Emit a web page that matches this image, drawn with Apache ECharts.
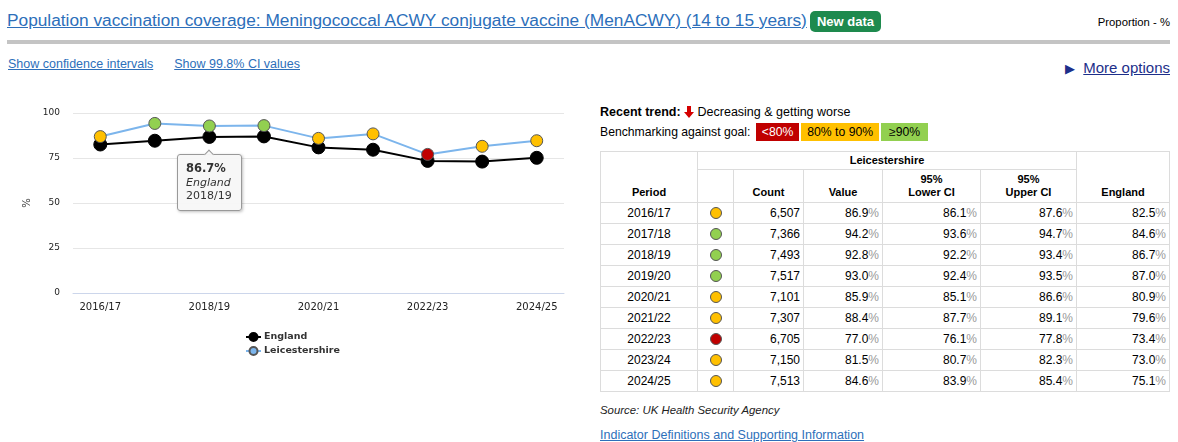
<!DOCTYPE html>
<html>
<head>
<meta charset="utf-8">
<script src="https://cdn.jsdelivr.net/npm/echarts@6/dist/echarts.min.js"></script>
<style>
body { margin: 0; background: #fff; font-family: "Liberation Sans", Arial, sans-serif; }
#page { position: relative; width: 1178px; height: 442px; overflow: hidden; }
.abs { position: absolute; white-space: nowrap; }
a { color: #2d6fba; text-decoration: underline; }
#title { left: 7px; top: 10px; font-size: 17.3px; }
#badge { left: 810px; top: 11px; width: 71px; height: 21px; background: #1e8a4e; color: #fff; font-weight: bold; font-size: 13px; line-height: 21px; text-align: center; border-radius: 5px; }
#unit { right: 8px; top: 16px; font-size: 11.3px; color: #000; }
#rule { left: 7px; top: 40px; width: 1163px; height: 4px; background: #c4c4c4; }
#links { left: 8px; top: 57px; font-size: 12.5px; }
#links a { margin-right: 21px; }
#more { right: 8px; top: 59px; font-size: 15px; color: #1d2f8a; }
#more a { color: #1d2f8a; }
#aqi_chart { position: absolute; left: 0; top: 0; width: 592px; height: 442px; }
#trend { left: 600px; top: 105px; font-size: 12.5px; color: #000; }
#bench { left: 600px; top: 123px; font-size: 12.2px; color: #000; line-height: 18px; }
#bench span.b { display: inline-block; height: 18px; padding: 0 6px; margin-left: 2px; }
#tbl { position: absolute; left: 600px; top: 151px; border-collapse: collapse; font-size: 12px; color: #000; }
#tbl td, #tbl th { border: 1px solid #dcdcdc; padding: 0 3px; }
#tbl td { height: 20px; }
#tbl th { font-size: 11px; font-weight: bold; text-align: center; vertical-align: bottom; padding-bottom: 3px; line-height: 13px; }
#tbl td { text-align: right; line-height: 19px; }
#tbl td.c { text-align: center; }
#tbl .pc { color: #999; }
.dot { display: inline-block; width: 10px; height: 10px; border-radius: 50%; border: 1px solid #555; vertical-align: -2px; }
#source { left: 600px; top: 404px; font-size: 11.4px; font-style: italic; color: #222; }
#defs { left: 600px; top: 428px; font-size: 12.5px; }
</style>
</head>
<body>
<div id="page">
  <div class="abs" id="title"><a>Population vaccination coverage: Meningococcal ACWY conjugate vaccine (MenACWY) (14 to 15 years)</a></div>
  <div class="abs" id="badge">New data</div>
  <div class="abs" id="unit">Proportion - %</div>
  <div class="abs" id="rule"></div>
  <div class="abs" id="links"><a>Show confidence intervals</a><a>Show 99.8% CI values</a></div>
  <div class="abs" id="more"><span style="font-size:13px;margin-right:8px">&#9654;</span><a>More options</a></div>
  <div id="aqi_chart"></div>
  <div class="abs" id="trend"><b>Recent trend:</b> <svg width="10" height="12" viewBox="0 0 10 12" style="vertical-align:-2px"><path d="M3 0H7V6H10L5 12L0 6H3Z" fill="#d40000"/></svg> Decreasing &amp; getting worse</div>
  <div class="abs" id="bench">Benchmarking against goal: <span class="b" style="background:#c00000;color:#fff">&lt;80%</span><span class="b" style="background:#ffc000">80% to 90%</span><span class="b" style="background:#92d050;padding:0 8px">&ge;90%</span></div>
  <table id="tbl"></table>
  <div class="abs" id="source">Source: UK Health Security Agency</div>
  <div class="abs" id="defs"><a>Indicator Definitions and Supporting Information</a></div>
</div>
<script>
const periods = ["2016/17", "2017/18", "2018/19", "2019/20", "2020/21", "2021/22", "2022/23", "2023/24", "2024/25"];
const counts = ["6,507", "7,366", "7,493", "7,517", "7,101", "7,307", "6,705", "7,150", "7,513"];
const leicValues = [86.9, 94.2, 92.8, 93.0, 85.9, 88.4, 77.0, 81.5, 84.6];
const lowerCI = [86.1, 93.6, 92.2, 92.4, 85.1, 87.7, 76.1, 80.7, 83.9];
const upperCI = [87.6, 94.7, 93.4, 93.5, 86.6, 89.1, 77.8, 82.3, 85.4];
const englandValues = [82.5, 84.6, 86.7, 87.0, 80.9, 79.6, 73.4, 73.0, 75.1];
const yTicks = [0, 25, 50, 75, 100];

function goalColor(v) {
  if (v < 80) return "#c00000";
  if (v < 90) return "#ffc000";
  return "#92d050";
}

// table
const pct = v => v.toFixed(1) + '<span class="pc">%</span>';
let html = '<tr><th rowspan="2" style="width:90px">Period</th><th colspan="5" style="height:15px;padding-bottom:2px">Leicestershire</th><th rowspan="2" style="width:86px">England</th></tr>' +
  '<tr><th style="width:29px;height:29px"></th><th style="width:63px">Count</th><th style="width:72px">Value</th><th style="width:91px">95%<br>Lower CI</th><th style="width:89px">95%<br>Upper CI</th></tr>';
periods.forEach((p, i) => {
  html += '<tr><td class="c">' + p + '</td><td class="c"><span class="dot" style="background:' + goalColor(leicValues[i]) + '"></span></td>' +
    '<td>' + counts[i] + '</td><td>' + pct(leicValues[i]) + '</td><td>' + pct(lowerCI[i]) + '</td><td>' + pct(upperCI[i]) + '</td><td>' + pct(englandValues[i]) + '</td></tr>';
});
document.getElementById("tbl").innerHTML = html;

// chart
const chart = echarts.init(document.getElementById("aqi_chart"));
const options = {
  animation: false,
  grid: { left: 73, right: 28, top: 113, bottom: 149 },
  tooltip: {
    trigger: "item",
    position: "bottom",
    alwaysShowContent: true,
    backgroundColor: "rgba(247,247,247,0.95)",
    borderColor: "#999",
    borderWidth: 1,
    padding: [7, 9, 7, 8],
    textStyle: { fontFamily: "DejaVu Sans", fontSize: 11, color: "#333" },
    extraCssText: "border-radius:3px;line-height:13.5px;box-shadow:1px 1px 3px rgba(0,0,0,0.25);",
    formatter: p => "<b style='font-size:11.5px'>" + p.value + "%</b><br/><i>" + p.seriesName + "</i><br/>" + p.name
  },
  legend: {
    orient: "vertical",
    left: 240,
    top: 327,
    itemWidth: 15,
    itemHeight: 10,
    itemGap: 4,
    data: ["England", "Leicestershire"],
    textStyle: { fontFamily: "DejaVu Sans", fontSize: 9.5, fontWeight: "bold", color: "#333", padding: [0, 0, 0, -2] }
  },
  xAxis: {
    type: "category",
    data: periods,
    axisLine: { lineStyle: { color: "#ccd6eb" } },
    axisTick: { alignWithLabel: true, interval: 0, length: 5, lineStyle: { color: "#ccd6eb" } },
    axisLabel: { interval: 1, margin: 9, color: "#222", fontFamily: "DejaVu Sans", fontSize: 10 }
  },
  yAxis: {
    type: "value",
    min: yTicks[0],
    max: yTicks[yTicks.length - 1],
    interval: 25,
    name: "%",
    nameLocation: "middle",
    nameRotate: 90,
    nameGap: 38,
    nameTextStyle: { fontFamily: "DejaVu Sans", fontSize: 10, color: "#333" },
    axisLine: { show: false },
    axisTick: { show: false },
    splitLine: { lineStyle: { color: "#e6e6e6" } },
    axisLabel: { margin: 13, color: "#222", fontFamily: "DejaVu Sans", fontSize: 9 }
  },
  series: [
    {
      name: "England",
      type: "line",
      data: englandValues,
      symbol: "circle",
      symbolSize: 13,
      lineStyle: { color: "#000", width: 2 },
      itemStyle: { color: "#000", borderColor: "#000", borderWidth: 1 },
      z: 2
    },
    {
      name: "Leicestershire",
      type: "line",
      data: leicValues.map(v => ({ value: v, itemStyle: { color: goalColor(v) } })),
      symbol: "circle",
      symbolSize: 12,
      lineStyle: { color: "#7cb5ec", width: 2 },
      itemStyle: { color: "#7cb5ec", borderColor: "#555", borderWidth: 1 },
      z: 3
    }
  ]
};
chart.setOption(options);
chart.dispatchAction({ type: "showTip", seriesIndex: 0, dataIndex: 2 });
setTimeout(() => chart.dispatchAction({ type: "showTip", seriesIndex: 0, dataIndex: 2 }), 50);
</script>
</body>
</html>
